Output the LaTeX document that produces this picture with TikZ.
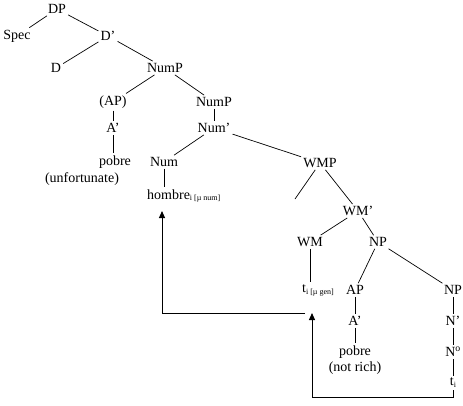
\documentclass[tikz,border=0pt]{standalone}
\usepackage{fontspec}
\setmainfont{Liberation Serif}
\usetikzlibrary{arrows.meta}
\newcommand{\lsub}[1]{\raisebox{-0.3ex}{\fontsize{8}{9}\selectfont #1}}
\tikzset{
  every node/.style={font=\fontsize{14}{15}\selectfont, inner sep=2pt},
  branch/.style={line width=0.7pt},
  chain/.style={line width=1pt, -{Triangle[length=7pt,width=6pt]}}
}
\begin{document}
\begin{tikzpicture}[x=1pt,y=-1pt]
\useasboundingbox (0,0) rectangle (463,405);
   \node at (57,9)  (DP) {DP};
   \node at (17,36)  (Spec) {Spec};
   \node at (108,36)  (D1) {D'};
   \node at (56,68)  (D) {D};
   \node at (165,68)  (NumP) {NumP};
   \node at (113,102)  (AP) {(AP)};
   \node at (214,102)  (NumPb) {NumP};
   \node at (113,128)  (A1) {A'};
   \node at (214,128)  (Num1) {Num'};
   \node at (115,162)  (pobre) {pobre};
   \node at (82,179)  (unfort) {(unfortunate)};
   \node at (164,162)  (Num) {Num};
   \node at (320,163)  (WMP) {WMP};
   \node[anchor=west] at (145,196)  (hombre) {hombre\lsub{i [µ num]}};
   \coordinate (WMPspec) at (295,199);
   \node at (358,211)  (WM1) {WM'};
   \node at (310,242)  (WM) {WM};
   \node at (378,242)  (NP) {NP};
   \node[anchor=west] at (300,290)  (tgen) {t\lsub{i [µ gen]}};
   \node at (355,290)  (APb) {AP};
   \node at (453,290)  (NPb) {NP};
   \node at (355,321)  (A2) {A'};
   \node at (453,321)  (N1) {N'};
   \node at (355,352)  (pobreb) {pobre};
   \node at (355,368)  (notrich) {(not rich)};
   \node at (453,352)  (N0) {N\textsuperscript{o}};
   \node at (453,383)  (ti) {t\lsub{i}};

    \draw[branch] (DP) -- (Spec);
    \draw[branch] (DP) -- (D1);
    \draw[branch] (D1) -- (D);
    \draw[branch] (D1) -- (NumP);
    \draw[branch] (NumP) -- (AP);
    \draw[branch] (NumP) -- (NumPb);
    \draw[branch] (AP) -- (A1);
    \draw[branch] (A1) -- (pobre.north -| A1);
    \draw[branch] (NumPb) -- (Num1);
    \draw[branch] (Num1) -- (Num);
    \draw[branch] (Num1) -- (WMP);
    \draw[branch] (Num) -- (Num |- hombre.north);
    \draw[branch] (WMP) -- (WMPspec);
    \draw[branch] (WMP) -- (WM1);
    \draw[branch] (WM1) -- (WM);
    \draw[branch] (WM1) -- (NP);
    \draw[branch] (WM) -- (WM |- tgen.north);
    \draw[branch] (NP) -- (APb);
    \draw[branch] (NP) -- (NPb);
    \draw[branch] (APb) -- (A2);
    \draw[branch] (A2) -- (pobreb);
    \draw[branch] (NPb) -- (N1);
    \draw[branch] (N1) -- (N0);
    \draw[branch] (N0) -- (ti);

    % movement
    \coordinate (tgenfoot) at (312,313);
    \coordinate (tgenleft) at (305,313);
    \coordinate (hombrefoot) at (162,211);
    \coordinate (base) at (312,397);
    \draw[chain] (ti.south) |- (base) -- (tgenfoot);
    \draw[chain] (tgenleft) -| (hombrefoot);
\end{tikzpicture}
\end{document}
